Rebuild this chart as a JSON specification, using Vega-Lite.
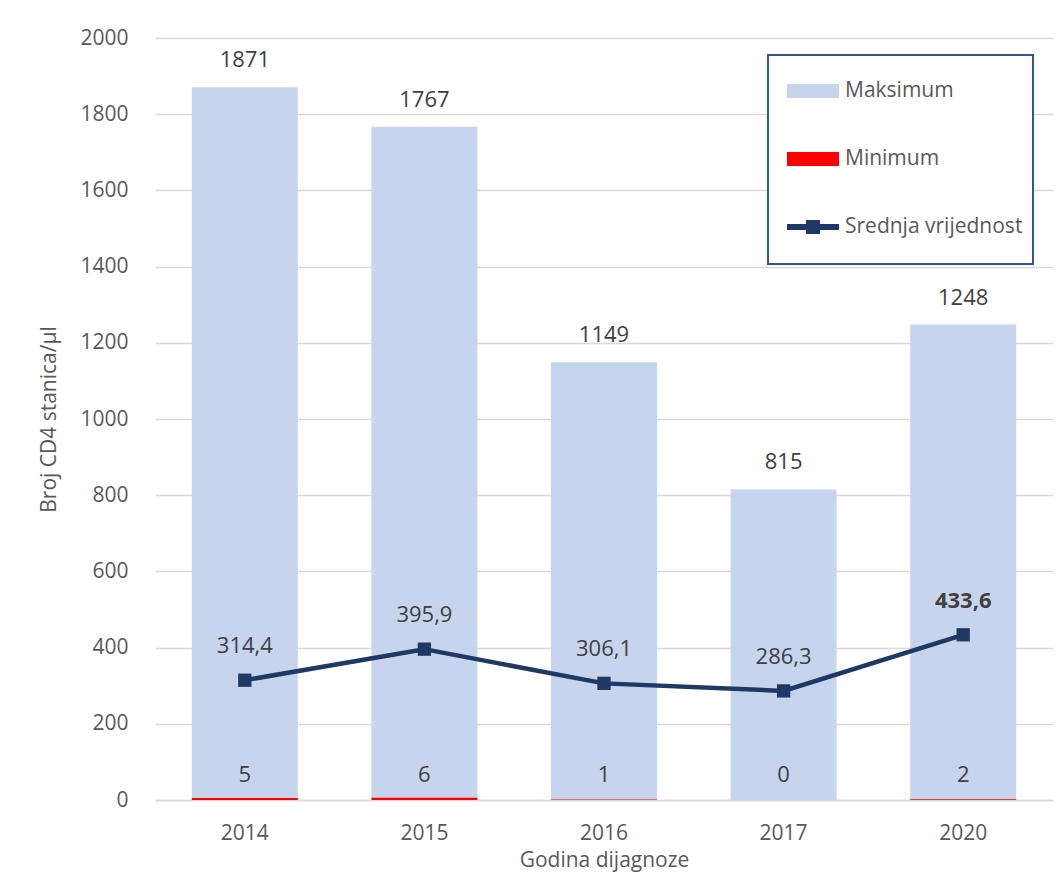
{
  "$schema": "https://vega.github.io/schema/vega-lite/v6.json",
  "width": 898,
  "height": 762,
  "autosize": {"type": "none"},
  "padding": {"left": 155, "top": 38, "right": 9, "bottom": 90},
  "background": "white",
  "config": {
    "font": "Open Sans",
    "view": {"stroke": null},
    "locale": {"number": {"decimal": ",", "thousands": ".", "grouping": [3], "currency": ["", ""]}}
  },
  "data": {
    "values": [
      {"year": "2014", "series": "Maksimum", "value": 1871},
      {"year": "2015", "series": "Maksimum", "value": 1767},
      {"year": "2016", "series": "Maksimum", "value": 1149},
      {"year": "2017", "series": "Maksimum", "value": 815},
      {"year": "2020", "series": "Maksimum", "value": 1248},
      {"year": "2014", "series": "Minimum", "value": 5},
      {"year": "2015", "series": "Minimum", "value": 6},
      {"year": "2016", "series": "Minimum", "value": 1},
      {"year": "2017", "series": "Minimum", "value": 0},
      {"year": "2020", "series": "Minimum", "value": 2},
      {"year": "2014", "series": "Srednja vrijednost", "value": 314.4},
      {"year": "2015", "series": "Srednja vrijednost", "value": 395.9},
      {"year": "2016", "series": "Srednja vrijednost", "value": 306.1},
      {"year": "2017", "series": "Srednja vrijednost", "value": 286.3},
      {"year": "2020", "series": "Srednja vrijednost", "value": 433.6}
    ]
  },
  "encoding": {
    "x": {
      "field": "year", "type": "ordinal",
      "scale": {"paddingInner": 0.41, "paddingOuter": 0.205},
      "axis": {
        "title": "Godina dijagnoze", "labelAngle": 0, "ticks": false,
        "domainColor": "#D9D9D9", "domainWidth": 1.5,
        "labelFont": "Open Sans", "labelFontSize": 21, "labelColor": "#595959", "labelPadding": 22,
        "titleFont": "Open Sans", "titleFontSize": 21, "titleFontWeight": "normal", "titleColor": "#595959", "titlePadding": 6
      }
    },
    "y": {
      "field": "value", "type": "quantitative",
      "scale": {"domain": [0, 2000]},
      "axis": {
        "title": "Broj CD4 stanica/µl", "values": [0, 200, 400, 600, 800, 1000, 1200, 1400, 1600, 1800, 2000],
        "format": "d", "domain": false, "ticks": false,
        "gridColor": "#D9D9D9", "gridWidth": 1.5,
        "labelFont": "Open Sans", "labelFontSize": 21, "labelColor": "#595959", "labelPadding": 27,
        "titleFont": "Open Sans", "titleFontSize": 21, "titleFontWeight": "normal", "titleColor": "#595959", "titlePadding": 20
      }
    }
  },
  "layer": [
    {
      "transform": [{"filter": "datum.series === 'Maksimum'"}],
      "mark": {"type": "bar"},
      "encoding": {
        "color": {
          "field": "series", "type": "nominal",
          "scale": {"domain": ["Maksimum", "Minimum", "Srednja vrijednost"], "range": ["#C6D4EE", "#FF0000", "#203864"]},
          "legend": {
            "orient": "none", "legendX": 613, "legendY": 17, "direction": "vertical",
            "title": " ", "titleOrient": "bottom", "titleFontSize": 10, "titlePadding": 7,
            "padding": 10, "strokeColor": "#2F5597", "fillColor": "white",
            "symbolSize": 2704, "symbolStrokeWidth": 0, "symbolOpacity": 1, "rowPadding": 32, "labelOffset": 15, "labelLimit": 400,
            "labelFont": "Open Sans", "labelFontSize": 21, "labelColor": "#595959",
            "encode": {
              "legend": {"update": {"strokeWidth": {"value": 2}}},
              "symbols": {"update": {"shape": {"signal": "datum.value === 'Srednja vrijednost' ? 'M-0.654,-0.115H1.346V0.115H-0.654Z M0.076,-0.27H0.616V0.27H0.076Z' : 'M-0.654,-0.27H1.346V0.27H-0.654Z'"}}}
            }
          }
        }
      }
    },
    {
      "transform": [{"filter": "datum.series === 'Minimum'"}],
      "mark": {"type": "bar"},
      "encoding": {
        "color": {"field": "series", "type": "nominal"}
      }
    },
    {
      "transform": [{"filter": "datum.series === 'Maksimum'"}],
      "mark": {"type": "text", "baseline": "middle", "dy": -27, "fontSize": 22, "color": "#404040", "font": "Open Sans"},
      "encoding": {"text": {"field": "value", "type": "quantitative", "format": "d"}}
    },
    {
      "transform": [{"filter": "datum.series === 'Minimum'"}],
      "mark": {"type": "text", "baseline": "middle", "dy": -25, "fontSize": 22, "color": "#404040", "font": "Open Sans"},
      "encoding": {
        "y": {"datum": 0, "type": "quantitative"},
        "text": {"field": "value", "type": "quantitative", "format": "d"}
      }
    },
    {
      "transform": [{"filter": "datum.series === 'Srednja vrijednost'"}],
      "mark": {"type": "line", "color": "#203864", "strokeWidth": 4.5, "point": {"shape": "square", "size": 177, "filled": true, "color": "#203864", "opacity": 1}},
      "encoding": {}
    },
    {
      "transform": [{"filter": "datum.series === 'Srednja vrijednost' && datum.year !== '2020'"}],
      "mark": {"type": "text", "baseline": "middle", "dy": -34, "fontSize": 22, "color": "#404040", "font": "Open Sans"},
      "encoding": {
        "text": {"field": "value", "type": "quantitative", "format": ".1f"}
      }
    },
    {
      "transform": [{"filter": "datum.series === 'Srednja vrijednost' && datum.year === '2020'"}],
      "mark": {"type": "text", "baseline": "middle", "dy": -34, "fontSize": 22, "fontWeight": 700, "color": "#404040", "font": "Open Sans"},
      "encoding": {
        "text": {"field": "value", "type": "quantitative", "format": ".1f"}
      }
    }
  ]
}
